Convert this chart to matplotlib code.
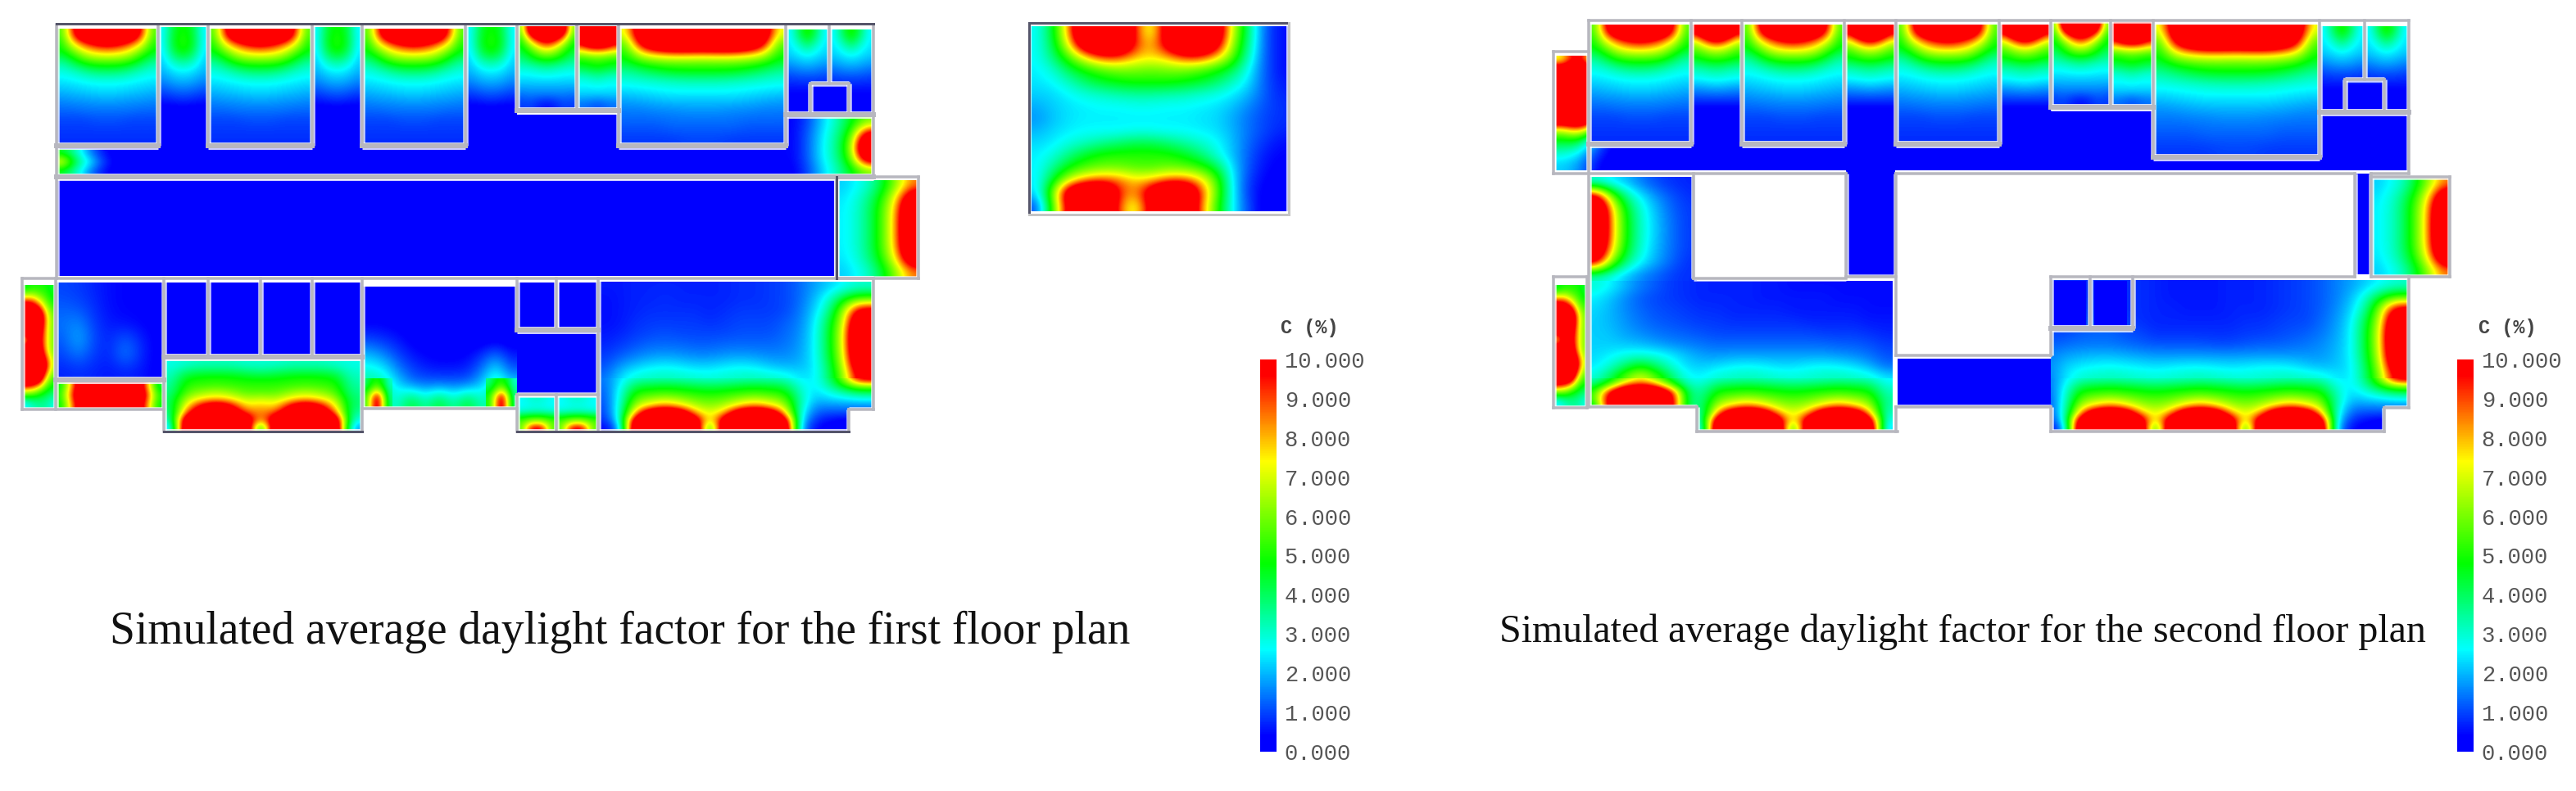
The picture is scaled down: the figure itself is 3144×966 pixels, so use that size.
import numpy as np
import matplotlib
matplotlib.use("Agg")
import matplotlib.pyplot as plt
from matplotlib.colors import LinearSegmentedColormap, Normalize
from matplotlib.cm import ScalarMappable
from matplotlib.patches import Polygon

# DATA: daylight factor (%), one small grid per room
BLUE = [[0.05, 0.05], [0.05, 0.05]]

ROOM_A = [
    [5.5, 9.5, 13, 15, 15, 15, 13, 9.5, 5.5],
    [5, 7.6, 9, 10, 10.5, 10, 9, 7.6, 5],
    [4.6, 5.6, 7, 7.6, 7.8, 7.6, 7, 5.6, 4.6],
    [3.4, 4.2, 5, 5.4, 5.4, 5.4, 5, 4.2, 3.4],
    [2.8, 3, 3.4, 3.7, 3.8, 3.7, 3.4, 3, 2.8],
    [2.4, 2.5, 2.6, 2.7, 2.7, 2.7, 2.6, 2.5, 2.4],
    [2, 2.1, 2.2, 2.3, 2.3, 2.3, 2.2, 2.1, 2],
    [1.6, 1.7, 1.7, 1.8, 1.8, 1.8, 1.7, 1.7, 1.6],
    [1.3, 1.3, 1.4, 1.4, 1.4, 1.4, 1.4, 1.3, 1.3],
    [1, 1, 1, 1.1, 1.1, 1.1, 1, 1, 1],
    [0.9, 0.9, 0.9, 0.9, 0.9, 0.9, 0.9, 0.9, 0.9],
    [0.8, 0.8, 0.8, 0.8, 0.8, 0.8, 0.8, 0.8, 0.8],
]
SLOT_GREEN = [
    [2.5, 4.4, 5, 4.4, 2.5],
    [2.5, 4.6, 5.2, 4.6, 2.5],
    [2.4, 4.2, 5, 4.2, 2.4],
    [2.2, 3.2, 3.6, 3.2, 2.2],
    [2, 2.4, 2.6, 2.4, 2],
    [1.6, 1.9, 2, 1.9, 1.6],
    [1.1, 1.3, 1.4, 1.3, 1.1],
    [0.6, 0.7, 0.8, 0.7, 0.6],
    [0.2, 0.2, 0.2, 0.2, 0.2],
]
SLOT_RED = [
    [11, 14, 15, 14, 11],
    [7.5, 9.5, 10.8, 9.5, 7.5],
    [5.6, 6.5, 7, 6.5, 5.6],
    [4.6, 5, 5.2, 5, 4.6],
    [3.2, 3.4, 3.6, 3.4, 3.2],
    [2.6, 2.7, 2.8, 2.7, 2.6],
    [1.7, 1.8, 1.9, 1.8, 1.7],
    [1, 1, 1, 1, 1],
    [0.3, 0.3, 0.3, 0.3, 0.3],
]
SMALL_DOME = [
    [6, 11, 14, 15, 14, 11, 6],
    [5, 7.6, 9.6, 10.5, 9.6, 7.6, 5],
    [4.5, 5.4, 6.8, 7.6, 6.8, 5.4, 4.5],
    [3.8, 4.4, 5, 5.2, 5, 4.4, 3.8],
    [3, 3.1, 3.3, 3.5, 3.3, 3.1, 3],
    [2.5, 2.5, 2.6, 2.6, 2.6, 2.5, 2.5],
    [2, 2, 2, 2, 2, 2, 2],
    [1.4, 1.5, 1.5, 1.5, 1.5, 1.5, 1.4],
    [0.9, 1, 0.7, 0.5, 0.7, 1, 0.9],
]
SMALL_RED = [
    [12, 14, 15, 14, 12],
    [11, 13, 14, 13, 11],
    [8, 8.8, 9, 8.8, 8],
    [5.2, 5.4, 5.6, 5.4, 5.2],
    [4.4, 4.6, 4.8, 4.6, 4.4],
    [3, 3.2, 3.4, 3.2, 3],
    [2.6, 2.6, 2.7, 2.6, 2.6],
    [2.2, 2.2, 2.2, 2.2, 2.2],
    [1.4, 1.3, 1.1, 1.3, 1.4],
]
BIG_ROOM = [
    [7, 12, 15, 15, 15, 15, 15, 15, 15, 12, 7],
    [5.6, 10.5, 13, 14, 14, 14, 14, 14, 13, 10.5, 5.6],
    [5, 7.6, 8.4, 8.8, 8.8, 8.6, 8.8, 8.8, 8.4, 7.6, 5],
    [4.4, 5.2, 5.6, 5.8, 5.8, 5.8, 5.8, 5.8, 5.6, 5.2, 4.4],
    [3.4, 3.8, 4.2, 4.5, 4.6, 4.6, 4.6, 4.5, 4.2, 3.8, 3.4],
    [2.8, 2.9, 3, 3.1, 3.2, 3.2, 3.2, 3.1, 3, 2.9, 2.8],
    [2.3, 2.4, 2.5, 2.6, 2.6, 2.6, 2.6, 2.6, 2.5, 2.4, 2.3],
    [1.8, 1.9, 2, 2.1, 2.1, 2.1, 2.1, 2.1, 2, 1.9, 1.8],
    [1.5, 1.5, 1.6, 1.6, 1.7, 1.7, 1.7, 1.6, 1.6, 1.5, 1.5],
    [1.3, 1.3, 1.3, 1.4, 1.4, 1.4, 1.4, 1.4, 1.3, 1.3, 1.3],
    [1.1, 1.1, 1.1, 1.2, 1.2, 1.2, 1.2, 1.2, 1.1, 1.1, 1.1],
    [0.9, 0.9, 0.9, 0.9, 1, 1, 1, 0.9, 0.9, 0.9, 0.9],
]
RIGHT_PAIR = [
    [2.5, 4, 5.2, 4, 2.5],
    [2.4, 3, 3.8, 3, 2.4],
    [2.2, 2.4, 2.6, 2.4, 2.2],
    [1.6, 1.8, 1.9, 1.8, 1.6],
    [1, 1.1, 1.1, 1.1, 1],
    [0.6, 0.6, 0.6, 0.6, 0.6],
    [0.3, 0.3, 0.3, 0.3, 0.3],
    [0.1, 0.1, 0.1, 0.1, 0.1],
]
WIN_RIGHT = [
    [2.2, 2.6, 3.2, 4.6, 6.5, 8.5],
    [2.4, 2.9, 3.8, 5.4, 8, 12],
    [2.5, 3, 4, 5.8, 8.6, 14],
    [2.5, 3, 4, 5.8, 8.8, 14],
    [2.5, 3, 4, 5.8, 8.8, 14],
    [2.5, 3, 4, 5.8, 8.6, 14],
    [2.4, 2.9, 3.8, 5.4, 8, 12],
    [2.2, 2.6, 3.2, 4.6, 6.5, 8.5],
]
CORRIDOR_RIGHT = [
    [0.4, 1, 2.2, 3.2, 4.6, 6],
    [0.4, 1.2, 2.4, 3.5, 5.4, 11],
    [0.4, 1.2, 2.5, 3.6, 6.2, 14],
    [0.4, 1.2, 2.5, 3.5, 5.8, 12],
    [0.3, 1, 2.2, 3.2, 4.6, 6],
]
CORRIDOR_LEFT = [
    [4.5, 3.2, 1.6, 0.6, 0.2, 0.05],
    [7.4, 4, 2.6, 1, 0.3, 0.05],
    [4.5, 3.2, 1.6, 0.6, 0.2, 0.05],
]
LEFT_STRIP = [
    [4.5, 5, 5, 5, 4.4],
    [10.5, 10, 8, 6, 5],
    [14, 14, 13, 8.5, 6],
    [13, 13, 12, 8, 6],
    [6.5, 10, 10.5, 8, 6],
    [13, 13, 12, 8, 6],
    [14, 14, 14, 11, 7],
    [14, 14, 13, 8, 5.5],
    [8, 7.4, 6, 5, 4.4],
    [2.4, 3, 3.4, 3.4, 2.8],
]
FADED = [
    [1, 0.9, 0.7, 0.5, 0.4, 0.4, 0.3],
    [1.2, 1.1, 0.8, 0.5, 0.4, 0.4, 0.3],
    [1.4, 1.6, 0.9, 0.6, 0.5, 0.4, 0.3],
    [1.2, 2, 1, 0.7, 1.2, 0.7, 0.3],
    [1, 1.5, 0.9, 0.7, 1.6, 0.8, 0.3],
    [0.7, 0.8, 0.7, 0.6, 0.7, 0.6, 0.3],
]
RED_STRIP = [
    [4.5, 10, 13, 14, 14, 13, 10, 4],
    [5, 11, 14, 15, 15, 14, 11, 5],
    [4.5, 10, 13, 14, 14, 13, 10, 4.5],
]
CENTER_HALL = [
    [0.1, 0.1, 0.1, 0.05, 0.05, 0.05, 0.05, 0.05, 0.05, 0.05, 0.05],
    [0.2, 0.2, 0.1, 0.1, 0.05, 0.05, 0.05, 0.05, 0.05, 0.05, 0.05],
    [0.4, 0.4, 0.3, 0.2, 0.1, 0.1, 0.1, 0.1, 0.1, 0.1, 0.1],
    [1, 0.8, 0.6, 0.3, 0.2, 0.1, 0.1, 0.1, 0.1, 0.2, 0.1],
    [2, 1.6, 1, 0.6, 0.4, 0.3, 0.3, 0.4, 0.8, 1.4, 0.6],
    [2.9, 2.6, 1.6, 1, 0.7, 0.6, 0.6, 0.7, 1.4, 2.6, 1.2],
    [3.6, 3.4, 2.4, 1.5, 1.4, 1.4, 1.4, 1.4, 2.2, 3.4, 2.4],
    [4, 3.6, 2.8, 4.6, 3.2, 4.6, 3.2, 4.6, 3, 3.8, 4],
]
CORNER_SPOT = [
    [3.6, 4.6, 5, 4.4, 3],
    [4.4, 5.4, 6.6, 5.2, 3.4],
    [5, 7.4, 10, 7, 3.6],
    [5, 7.6, 10.5, 7.2, 3.8],
]
BATH = [
    [2.6, 3, 3, 2.6],
    [2.6, 2.8, 2.8, 2.6],
    [3, 3.2, 3.2, 3],
    [4.6, 5, 5, 4.6],
    [5.6, 7, 7, 5.6],
    [5.5, 10, 10, 5.5],
]
ISOLATED = [
    [2.6, 4.4, 8.5, 14, 15, 14, 9.5, 6.5, 11, 14, 15, 12, 7, 3.8, 1.2, 0.5],
    [2.6, 4.2, 7.5, 12, 13, 13, 9.5, 7.6, 10.5, 13, 13, 11, 6.4, 3.6, 1.2, 0.5],
    [2.6, 3.8, 5.6, 7.6, 9.2, 9.2, 8, 7.6, 8, 9.2, 9.4, 8, 5.8, 3.2, 1.2, 0.5],
    [2.5, 3, 4.2, 5, 5.6, 6, 6, 5.8, 6, 6, 5.6, 5, 4.2, 2.7, 1.2, 0.5],
    [2.4, 2.6, 3.2, 4, 4.5, 4.8, 5, 5, 5, 4.8, 4.5, 4, 3.2, 2.4, 1.2, 0.6],
    [2.2, 2.3, 2.6, 2.9, 3.1, 3.3, 3.4, 3.4, 3.3, 3.2, 3, 2.8, 2.5, 2, 1.2, 0.7],
    [1.9, 2.2, 2.4, 2.5, 2.6, 2.6, 2.7, 2.7, 2.6, 2.6, 2.5, 2.4, 2.1, 1.6, 1.1, 0.8],
    [1.7, 2.1, 2.4, 2.5, 2.5, 2.5, 2.5, 2.5, 2.5, 2.5, 2.4, 2.3, 1.9, 1.4, 1, 0.8],
    [2, 2.3, 2.5, 2.6, 2.6, 2.6, 2.7, 2.7, 2.6, 2.6, 2.5, 2.4, 2, 1.4, 1, 0.7],
    [2.3, 2.5, 2.9, 3.2, 3.6, 3.9, 4.2, 4.2, 3.9, 3.5, 3.1, 2.7, 2.1, 1.3, 0.8, 0.5],
    [2.5, 2.9, 3.8, 4.6, 5.1, 5.2, 5.2, 5.2, 5.1, 4.7, 4, 3, 2.1, 1.2, 0.6, 0.4],
    [2.5, 3.6, 4.9, 5.6, 5.9, 5.9, 5.6, 5.5, 5.9, 5.8, 5.4, 4.4, 2.4, 1.1, 0.5, 0.3],
    [2.4, 4.6, 7, 8.4, 9, 8.8, 7.8, 8, 8.8, 9, 8, 5.8, 2.5, 0.9, 0.4, 0.2],
    [2.2, 6, 12, 14, 14, 9.5, 8, 11, 14, 14, 9.5, 6, 2.6, 0.8, 0.3, 0.1],
    [1, 5.5, 11, 14, 14, 9, 6.6, 10.5, 14, 14, 9, 5.5, 2.6, 1, 0.2, 0.1],
]

# one repeat of a window dome: gap column first, then the dome
DOME = [
    [3, 3.1, 3.2, 3.3, 3.2, 3.1],
    [4, 4.1, 4.3, 4.4, 4.3, 4.1],
    [4.8, 5, 5.2, 5.4, 5.2, 5],
    [5.6, 5.8, 6.4, 6.8, 6.4, 5.8],
    [6.2, 6.8, 8, 8.8, 8, 6.8],
    [7, 8.2, 12, 13, 12, 8.2],
    [6, 11.5, 14, 14.5, 14, 11.5],
    [3.5, 13, 15, 15, 15, 13],
]
DOME_END = [[2.5], [2.9], [3.2], [3.4], [3.3], [3], [2.5], [2]]
DOME_START = [
    [1.4, 2.4], [1.3, 2.6], [1.2, 2.8], [1.1, 2.9],
    [1, 3], [0.9, 3], [0.7, 2.6], [0.4, 1.6],
]
DOME_ROOM = [
    [3, 3, 3.2, 3.2, 3.2, 3],
    [3.6, 3.8, 4, 4, 4, 3.8],
    [4.6, 4.7, 4.9, 5, 4.9, 4.7],
    [5.2, 5.2, 5.3, 5.4, 5.3, 5.2],
    [5.6, 5.6, 6.2, 6.6, 6.2, 5.6],
    [7, 6.6, 7.6, 8, 7.6, 6.6],
    [8, 7.5, 10, 11.5, 10, 7.5],
    [8.4, 9, 12, 14, 12, 9],
    [7, 12, 15, 15, 15, 12],
    [3, 13, 15, 15, 15, 13],
]
DOME_ROOM_END = [[2.8], [3], [3.2], [3.4], [3.6], [3.8], [3.8], [3.4], [2.8], [1.8]]
EDGE_UP = [
    [1.8, 2.2, 2.6, 3],
    [2, 3, 4.6, 5.5],
    [2.2, 3.5, 6.5, 10.5],
    [2.4, 4.2, 7, 13],
    [2.5, 4.4, 7.4, 14],
    [2.5, 4.4, 7.4, 14],
    [2.5, 4.3, 7.2, 13.5],
    [2.4, 4, 6.8, 12],
]
EDGE_LOW = [
    [2.4, 3.8, 6.2, 10.5],
    [2.4, 3.4, 5, 6.5],
    [2.2, 2.8, 3.4, 4],
    [2, 2.2, 2.4, 2.6],
    [1.6, 1.6, 1.6, 1.6],
    [1.2, 1, 1, 1],
    [0.8, 0.5, 0.3, 0.3],
    [0.5, 0.2, 0.05, 0.05],
]
HALL_F1 = [
    [0.6, 0.6, 0.7, 0.7, 0.7, 0.7, 0.7, 0.7, 0.7, 0.8, 0.8, 0.9, 1, 1.3],
    [0.5, 0.6, 0.7, 0.7, 0.8, 0.7, 0.7, 0.7, 0.7, 0.8, 0.8, 0.9, 1, 1.3],
    [0.5, 0.6, 0.7, 0.8, 0.8, 0.8, 0.8, 0.7, 0.8, 0.9, 0.9, 0.9, 1, 1.4],
    [0.5, 0.6, 0.8, 0.9, 0.9, 0.9, 0.9, 0.8, 0.9, 1, 1, 1, 1.2, 1.5],
    [0.6, 0.7, 0.9, 1, 1.1, 1, 1, 1, 1, 1.1, 1.1, 1.1, 1.3, 1.6],
    [0.7, 0.9, 1.1, 1.3, 1.3, 1.3, 1.2, 1.2, 1.3, 1.3, 1.3, 1.3, 1.4, 1.7],
    [0.9, 1.2, 1.5, 1.7, 1.8, 1.7, 1.6, 1.6, 1.7, 1.8, 1.7, 1.6, 1.6, 1.8],
    [1.1, 1.8, 2.2, 2.5, 2.6, 2.5, 2.3, 2.3, 2.5, 2.6, 2.5, 2.2, 2, 2],
]
HALL_F2 = [
    [0.8, 0.8, 0.8, 0.8, 0.8, 0.8, 0.8, 0.7, 0.6, 0.6, 0.6, 0.6, 0.7, 0.7, 0.7, 0.8, 0.9, 1, 1.2, 1.5],
    [0.8, 0.8, 0.8, 0.8, 0.8, 0.8, 0.8, 0.7, 0.6, 0.6, 0.6, 0.6, 0.7, 0.7, 0.7, 0.8, 0.9, 1, 1.2, 1.5],
    [0.9, 0.9, 0.9, 0.9, 0.8, 0.8, 0.8, 0.7, 0.7, 0.6, 0.6, 0.6, 0.7, 0.7, 0.7, 0.8, 0.9, 1, 1.2, 1.6],
    [0.9, 0.9, 1, 1, 1, 0.9, 0.8, 0.7, 0.7, 0.7, 0.7, 0.7, 0.7, 0.8, 0.8, 0.9, 1, 1, 1.3, 1.7],
    [1, 1, 1.2, 1.3, 1.3, 1.1, 1, 0.8, 0.8, 0.8, 0.8, 0.8, 0.8, 0.9, 0.9, 1, 1.1, 1.2, 1.4, 1.8],
    [1.2, 1.3, 1.4, 1.4, 1.4, 1.3, 1.2, 1.1, 1.1, 1.1, 1.1, 1, 1, 1.1, 1.2, 1.2, 1.3, 1.4, 1.6, 1.9],
    [1.5, 1.8, 1.9, 2, 2, 1.9, 1.8, 1.7, 1.7, 1.7, 1.7, 1.7, 1.7, 1.7, 1.7, 1.7, 1.7, 1.7, 1.7, 2],
    [1.6, 2.2, 2.5, 2.6, 2.7, 2.6, 2.5, 2.4, 2.5, 2.6, 2.6, 2.5, 2.4, 2.5, 2.6, 2.6, 2.5, 2.2, 2, 2.1],
]
PROTRUSION = [
    [7, 11, 7, 1, 0.5],
    [14, 14, 13, 1, 0.5],
    [14, 14, 13, 1, 0.5],
    [14, 14, 13, 1, 0.5],
    [14, 14, 13, 1, 0.5],
    [13, 14, 12, 1, 0.5],
    [6.5, 8, 6, 1, 0.5],
    [4.4, 4.4, 2.2, 0.8, 0.2],
    [3, 2.6, 1.4, 0.5, 0.1],
    [2.2, 1.8, 0.8, 0.2, 0.05],
]
TOWER = [
    [2.8, 2.4, 2, 1.4, 1, 0.8, 0.7],
    [11, 6, 3.5, 2.4, 1.6, 1.1, 0.8],
    [14, 7.8, 4.4, 2.8, 1.9, 1.2, 0.9],
    [14, 8, 4.6, 2.9, 2, 1.3, 0.9],
    [14, 8, 4.6, 2.9, 2, 1.3, 0.9],
    [13, 7.6, 4.4, 2.8, 1.9, 1.3, 0.9],
    [10.5, 6, 3.6, 2.5, 1.8, 1.2, 0.8],
    [3, 2.6, 2, 1.5, 1.2, 0.9, 0.8],
]
LOBBY_UP = [
    [3, 2.6, 2, 1.5, 1.2, 0.9, 0.8, 0.7, 0.7, 0.7, 0.7, 0.6, 0.6, 0.5, 0.5, 0.5, 0.5, 0.5, 0.5, 0.5],
    [2.5, 2.1, 1.6, 1.2, 1, 0.9, 0.8, 0.7, 0.7, 0.7, 0.7, 0.6, 0.6, 0.6, 0.6, 0.6, 0.5, 0.5, 0.5, 0.5],
    [2.3, 2, 1.6, 1.3, 1.1, 1, 0.9, 0.8, 0.8, 0.7, 0.7, 0.7, 0.7, 0.6, 0.6, 0.6, 0.6, 0.6, 0.5, 0.5],
    [2.2, 2, 1.7, 1.4, 1.2, 1.1, 1, 0.9, 0.9, 0.8, 0.8, 0.8, 0.8, 0.8, 0.7, 0.7, 0.7, 0.7, 0.6, 0.6],
    [2.2, 2.1, 1.8, 1.6, 1.4, 1.3, 1.2, 1.1, 1, 1, 1, 1, 1, 1, 1, 0.9, 0.9, 0.9, 0.8, 0.7],
    [2.2, 2.2, 2.1, 2, 1.8, 1.6, 1.5, 1.4, 1.3, 1.3, 1.3, 1.3, 1.3, 1.3, 1.3, 1.3, 1.2, 1.2, 1.1, 0.9],
    [2.3, 2.5, 2.8, 2.9, 2.8, 2.5, 2.1, 1.8, 1.7, 1.8, 1.8, 1.8, 1.8, 1.8, 1.8, 1.8, 1.7, 1.6, 1.4, 1.1],
    [2.4, 3, 4, 5, 4, 3, 2.3, 2.2, 2.4, 2.6, 2.7, 2.6, 2.4, 2.4, 2.6, 2.7, 2.6, 2.4, 2, 1.4],
]
LOBBY_DOME = [
    [3, 4.2, 6, 7.6, 6, 4.2, 2.8, 2.6],
    [4, 6, 9, 10, 9, 6, 3.4, 3],
    [5, 10, 13, 14, 13, 10, 4, 3.3],
    [5, 11, 14, 15, 14, 11, 4, 3.4],
    [4, 11, 14, 15, 14, 11, 4, 3.4],
    [3, 10, 14, 15, 14, 10, 3.5, 3],
    [3, 10, 14, 15, 14, 10, 3.5, 2.4],
    [3, 10, 14, 15, 14, 10, 3.5, 1.4],
]

# colorbar and captions
cbar_ticks = [0, 1, 2, 3, 4, 5, 6, 7, 8, 9, 10]
cbar_title = "C (%)"
caption_first = "Simulated average daylight factor for the first floor plan"
caption_second = "Simulated average daylight factor for the second floor plan"

# walls as (x0, y0, x1, y1) in picture pixels
WALLS_F1 = [
    (69, 30, 69, 340), (193, 30, 193, 178), (254, 30, 254, 178), (381, 30, 381, 178),
    (442, 30, 442, 178), (568, 30, 568, 178), (631, 30, 631, 135), (704, 30, 704, 135),
    (755, 30, 755, 178), (959, 30, 959, 178), (1012, 30, 1012, 102), (1066, 30, 1066, 216),
    (989, 102, 989, 140), (1036, 102, 1036, 140), (989, 102, 1036, 102),
    (1021, 216, 1021, 340), (1021, 216, 1121, 216), (1121, 216, 1121, 340), (1021, 340, 1121, 340),
    (27, 340, 1066, 340), (27, 340, 27, 500), (68, 340, 68, 500), (27, 500, 200, 500),
    (200, 340, 200, 527), (254, 340, 254, 436), (318, 340, 318, 436), (381, 340, 381, 436),
    (442, 340, 442, 527), (442, 499, 631, 499), (631, 340, 631, 403), (679, 340, 679, 403),
    (730, 340, 730, 527), (631, 482, 730, 482), (631, 482, 631, 527), (679, 482, 679, 527),
    (1036, 500, 1036, 527), (1036, 500, 1066, 500), (1066, 340, 1066, 500),
]
THICK_F1 = [
    (69, 178, 193, 178), (254, 178, 381, 178), (442, 178, 568, 178), (755, 178, 959, 178),
    (631, 135, 755, 135), (959, 140, 1066, 140), (69, 216, 1066, 216),
    (68, 464, 200, 464), (200, 436, 442, 436), (631, 403, 730, 403),
]
DARK_F1 = [
    (69, 29, 1066, 29), (200, 527, 442, 527), (631, 527, 1036, 527),
    (1256, 28, 1573, 28), (1256, 28, 1256, 262), (1021, 216, 1021, 340),
]
LIGHT_F1 = [(1573, 28, 1573, 262), (1256, 262, 1573, 262)]

WALLS_F2 = [
    (1939, 25, 2940, 25), (1939, 25, 1939, 497), (2064, 25, 2064, 176), (2126, 25, 2126, 176),
    (2251, 25, 2251, 176), (2314, 25, 2314, 176), (2440, 25, 2440, 176), (2503, 25, 2503, 131),
    (2576, 25, 2576, 131), (2628, 25, 2628, 192), (2831, 25, 2831, 192), (2886, 25, 2886, 97),
    (2940, 25, 2940, 212), (2862, 97, 2910, 97), (2862, 97, 2862, 137), (2910, 97, 2910, 137),
    (1896, 63, 1896, 212), (1896, 63, 1939, 63), (1896, 212, 2253, 212), (2314, 212, 2874, 212),
    (2894, 212, 2940, 212), (2894, 216, 2990, 216), (2990, 216, 2990, 338), (2894, 338, 2990, 338),
    (2894, 212, 2894, 338), (2874, 212, 2874, 338), (2253, 212, 2253, 338), (2067, 212, 2067, 340),
    (2067, 340, 2253, 340), (2253, 338, 2314, 338), (2314, 212, 2314, 434), (2314, 434, 2503, 434),
    (2503, 338, 2503, 434), (2503, 338, 2874, 338), (2551, 338, 2551, 401), (2603, 338, 2603, 401),
    (2940, 338, 2940, 498), (2910, 498, 2940, 498), (2910, 498, 2910, 527), (2071, 527, 2316, 527),
    (2503, 527, 2910, 527), (2314, 497, 2503, 497), (2314, 497, 2314, 527), (2503, 497, 2503, 527),
    (2071, 497, 2071, 527), (1939, 497, 2071, 497), (1896, 498, 1937, 498), (1896, 338, 1896, 498),
    (1937, 338, 1937, 498), (1896, 338, 1937, 338),
]
THICK_F2 = [
    (1939, 176, 2064, 176), (2126, 176, 2251, 176), (2314, 176, 2440, 176), (2503, 131, 2628, 131),
    (2628, 192, 2831, 192), (2831, 137, 2940, 137), (2503, 401, 2603, 401),
]

# colormap stops
cmap = LinearSegmentedColormap.from_list("daylight", [
    (0.0, (0, 0, 1)), (0.04, (0, 0, 1)), (0.26, (0, 1, 1)), (0.48, (0, 1, 0)),
    (0.74, (1, 1, 0)), (0.96, (1, 0, 0)), (1.0, (1, 0, 0))])
norm = Normalize(0, 10, clip=True)

fig = plt.figure(figsize=(31.44, 9.66), dpi=100)
ax = fig.add_axes([0, 0, 1, 1])


def room(grid, x0, x1, y0, y1, clip=None):
    im = ax.imshow(np.array(grid, dtype=float), extent=(x0, x1, y1, y0), origin="upper",
                   cmap=cmap, norm=norm, interpolation="bicubic",
                   interpolation_stage="data", aspect="auto", zorder=1)
    if clip is not None:
        im.set_clip_path(clip)


def outline(points):
    return Polygon(points, transform=ax.transData)


def hall(upper, lower, x0, x1, top, points):
    # the two bands meet on a shared row so no seam shows
    seam = 458 + 68 / 16
    upper = np.vstack([upper, lower[0]])
    step = (seam - top) / (len(upper) - 0.5)
    room(upper, x0, x1, top, top + step * len(upper), outline(points))
    low_points = [(x, max(y, seam)) for x, y in points]
    room(lower, x0, x1, 458, 526, outline(low_points))


def walls(segments, color="#b7b7bf", width=3.5):
    for x0, y0, x1, y1 in segments:
        ax.plot([x0, x1], [y0, y1], color="white", lw=(width + 3) * 0.72, zorder=2,
                solid_capstyle="butt", alpha=0.8)
    for x0, y0, x1, y1 in segments:
        ax.plot([x0, x1], [y0, y1], color=color, lw=width * 0.72, zorder=3,
                solid_capstyle="projecting")


# first floor
room(BLUE, 69, 1066, 140, 214)
room(CORRIDOR_LEFT, 69, 165, 182, 213)
room(CORRIDOR_RIGHT, 959, 1066, 143, 214)
for x0, x1 in [(69, 193), (254, 381), (442, 568)]:
    room(ROOM_A, x0, x1, 35, 176)
for x0, x1 in [(193, 254), (381, 442), (568, 631)]:
    room(SLOT_GREEN, x0, x1, 33, 140)
room(SMALL_DOME, 631, 704, 32, 132)
room(SMALL_RED, 704, 755, 32, 132)
room(BIG_ROOM, 755, 959, 35, 176)
room(RIGHT_PAIR, 959, 1012, 36, 138)
room(RIGHT_PAIR, 1012, 1066, 36, 138)
room(BLUE, 989, 1036, 105, 138)
room(BLUE, 69, 1021, 220, 337)
room(WIN_RIGHT, 1021, 1121, 220, 338)
room(LEFT_STRIP, 27, 68, 348, 498)
room(FADED, 68, 200, 345, 462)
room(RED_STRIP, 68, 200, 467, 498)
for x0, x1 in [(200, 254), (254, 318), (318, 381), (381, 442)]:
    room(BLUE, x0, x1, 345, 435)
room(np.hstack([DOME_ROOM_END, np.array(DOME_ROOM)[:, 1:], DOME_ROOM, DOME_ROOM_END, DOME_ROOM_END]),
     200.4, 454.8, 440, 526, outline([(200, 440), (442, 440), (442, 526), (200, 526)]))
room(CENTER_HALL, 442, 631, 350, 498)
room(CORNER_SPOT, 441, 479, 462, 498)
room(CORNER_SPOT, 593, 631, 462, 498)
room(BLUE, 631, 730, 405, 480)
room(BLUE, 631, 677, 345, 402)
room(BLUE, 682, 730, 345, 402)
room(BATH, 631, 679, 485, 526)
room(BATH, 679, 730, 485, 526)
hall(np.hstack([HALL_F1, EDGE_UP, np.array(EDGE_UP)[:, -1:]]),
     np.hstack([DOME_START, np.array(DOME)[:, 1:], DOME, DOME_END, EDGE_LOW, np.array(EDGE_LOW)[:, -1:]]),
     730.2, 1075.4, 345,
     [(730, 343), (1066, 343), (1066, 499), (1036, 499), (1036, 526), (730, 526)])
room(ISOLATED, 1256, 1573, 32, 258)

walls(WALLS_F1)
walls(THICK_F1, width=6)
walls(DARK_F1, color="#55556a", width=3)
walls(LIGHT_F1, color="#c4c4c4", width=3)

# second floor
room(BLUE, 1899, 2940, 135, 208)
room(BLUE, 2253, 2313, 208, 337)
room(BLUE, 2875, 2893, 212, 335)
room(PROTRUSION, 1899, 1985, 68, 208)
for x0, x1 in [(1939, 2064), (2126, 2251), (2314, 2440)]:
    room(ROOM_A, x0, x1, 30, 173)
for x0, x1 in [(2064, 2126), (2251, 2314), (2440, 2503)]:
    room(SLOT_RED, x0, x1, 30, 138)
room(SMALL_DOME, 2503, 2576, 27, 128)
room(SMALL_RED, 2576, 2628, 27, 128)
room(BIG_ROOM, 2628, 2831, 30, 188)
room(RIGHT_PAIR, 2831, 2886, 32, 134)
room(RIGHT_PAIR, 2886, 2940, 32, 134)
room(BLUE, 2862, 2910, 103, 135)
room(WIN_RIGHT, 2894, 2990, 218, 337)
room(LEFT_STRIP, 1898, 1937, 348, 496)
room(BLUE, 2316, 2503, 438, 495)
lobby_points = [(1939, 216), (2067, 216), (2067, 342), (2313, 342), (2313, 526), (2071, 526),
                (2071, 495), (1939, 495)]
room(TOWER, 1939, 2071, 216, 344, outline(lobby_points))
hall(LOBBY_UP, np.hstack([LOBBY_DOME, np.array(DOME)[:, 1:], DOME, DOME_END]),
     1937, 2310, 344, lobby_points)
hall(np.hstack([HALL_F2, EDGE_UP, np.array(EDGE_UP)[:, -1:]]),
     np.hstack([DOME_START, np.array(DOME)[:, 1:], DOME, DOME, DOME_END, EDGE_LOW, np.array(EDGE_LOW)[:, -1:]]),
     2492.5, 2950.8, 343,
     [(2503, 340), (2940, 340), (2940, 497), (2910, 497), (2910, 526), (2503, 526)])
room(BLUE, 2506, 2546, 343, 398)
room(BLUE, 2556, 2596, 343, 398)

walls(WALLS_F2)
walls(THICK_F2, width=6)

# captions
ax.text(134, 786, caption_first, family="Liberation Serif", fontsize=40, color="#111111",
        ha="left", va="baseline")
ax.text(1830, 784, caption_second, family="Liberation Serif", fontsize=34.5, color="#111111",
        ha="left", va="baseline")

# colorbars
for x_bar, x_title in [(1538, 1563), (2999, 3025)]:
    cax = fig.add_axes([x_bar / 3144, 1 - 918 / 966, 20 / 3144, (918 - 439) / 966])
    cb = fig.colorbar(ScalarMappable(norm=norm, cmap=cmap), cax=cax, ticks=cbar_ticks)
    cb.outline.set_visible(False)
    cb.ax.set_yticklabels(["{:.3f}".format(t) for t in cbar_ticks], family="Liberation Mono",
                          fontsize=19.5, color="#555555")
    cb.ax.tick_params(length=0, pad=7)
    ax.text(x_title, 400, cbar_title, family="Liberation Mono", fontsize=17, color="#444444",
            ha="left", va="center", fontweight="bold")

ax.set_xlim(0, 3144)
ax.set_ylim(966, 0)
ax.axis("off")
fig.savefig("out.png", dpi=100, facecolor="white")
